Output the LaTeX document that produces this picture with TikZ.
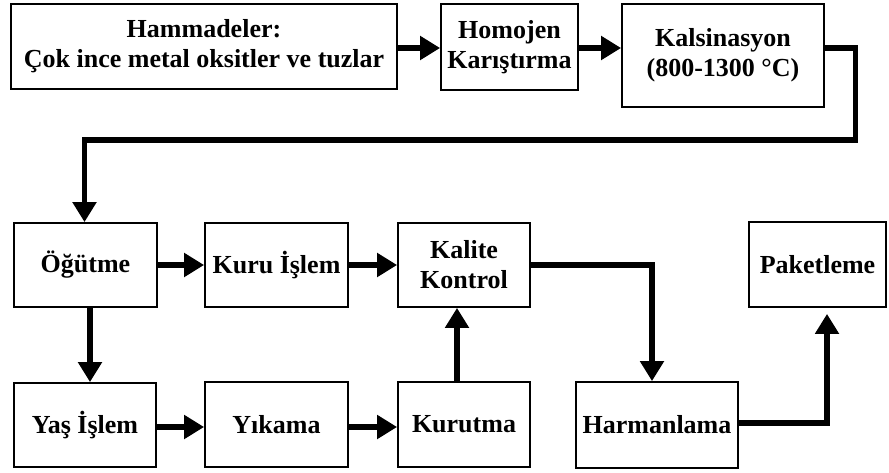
\documentclass[tikz,border=0pt]{standalone}
\usepackage{fontspec}
\setmainfont{Liberation Serif}
\usetikzlibrary{arrows.meta,calc}
\tikzset{
  box/.style={draw=black, line width=1.8pt, rectangle, align=center, inner sep=0pt,
    font=\fontsize{26}{30}\selectfont\bfseries},
  conn/.style={draw=black, line width=5.5pt, -{Triangle[width=23pt,length=20pt]}}
}
\begin{document}
\begin{tikzpicture}[x=1pt,y=-1pt]
\useasboundingbox (0,0) rectangle (889,472);
\fill[white] (0,0) rectangle (889,472);
\node[box, minimum width=386pt, minimum height=85pt] (ham) at (204,46.5) {Hammadeler:\\Çok ince metal oksitler ve tuzlar};
\node[box, minimum width=137pt, minimum height=86pt] (hom) at (509.5,47) {Homojen\\Karıştırma};
\node[box, minimum width=202pt, minimum height=103pt] (kal) at (723,55.5) {Kalsinasyon\\(800-1300 °C)};
\node[box, minimum width=143pt, minimum height=84pt] (ogu) at (85.5,265) {Öğütme};
\node[box, minimum width=143pt, minimum height=84pt] (kur) at (276.5,265) {Kuru İşlem};
\node[box, minimum width=132pt, minimum height=84pt] (kk) at (464,265) {Kalite\\Kontrol};
\node[box, minimum width=137pt, minimum height=85pt] (pak) at (817.5,264.5) {Paketleme};
\node[box, minimum width=142pt, minimum height=84pt] (yas) at (85,425) {Yaş İşlem};
\node[box, minimum width=143pt, minimum height=85pt] (yik) at (276.5,424.5) {Yıkama};
\node[box, minimum width=132pt, minimum height=85pt] (kurt) at (464,424.5) {Kurutma};
\node[box, minimum width=162pt, minimum height=86pt] (har) at (657,425) {Harmanlama};
\coordinate (c1) at (855.5,140);
% connectors
\draw[conn] ([yshift=-1.5pt]ham.east) -- ([yshift=-1.5pt]ham.east -| hom.west);
\draw[conn] ([yshift=-1pt]hom.east) -- ([yshift=-1pt]hom.east -| kal.west);
\draw[conn] ([yshift=7.5pt]kal.east) -| (c1) -| ([xshift=-1pt]ogu.north);
\draw[conn] (ogu.east) -- (kur.west);
\draw[conn] (kur.east) -- (kk.west);
\draw[conn] ([xshift=4.5pt]ogu.south) -- ([xshift=4.5pt]ogu.south |- yas.north);
\draw[conn] ([yshift=-2pt]yas.east) -- ([yshift=-2pt]yas.east -| yik.west);
\draw[conn] ([yshift=-2.5pt]yik.east) -- ([yshift=-2.5pt]yik.east -| kurt.west);
\draw[conn] ([xshift=-7pt]kurt.north) -- ([xshift=-7pt]kurt.north |- kk.south);
\draw[conn] (kk.east) -| ([xshift=-5pt]har.north);
\draw[conn] ([yshift=2pt]har.east) -| ([xshift=9.5pt,yshift=-6pt]pak.south);
\end{tikzpicture}
\end{document}
